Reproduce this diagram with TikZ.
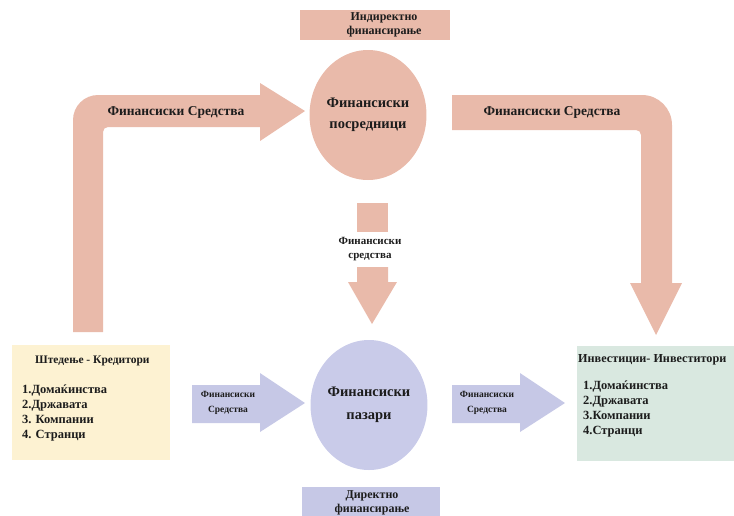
\documentclass[tikz,border=0pt]{standalone}
\usepackage{fontspec}
\setmainfont{Liberation Serif}
\usetikzlibrary{shapes.geometric}
\definecolor{salmon}{HTML}{E9BAAA}
\definecolor{lav}{HTML}{C6C8E6}
\definecolor{lavell}{HTML}{C9CBE9}
\definecolor{creamy}{HTML}{FDF2D2}
\definecolor{mint}{HTML}{D9E8E0}
\definecolor{ink}{HTML}{1C1C1C}
\tikzset{
  lbl/.style={text=ink,font=\bfseries\fontsize{#1}{#1}\selectfont,inner sep=0pt},
  lbl/.default=12,
  twoline/.style n args={2}{text=ink,align=center,inner sep=0pt,font=\bfseries\fontsize{#1}{#2}\selectfont},
  ell/.style={ellipse,inner sep=0pt,minimum width=110pt,minimum height=130pt},
  listtext/.style={text=ink,align=left,inner sep=0pt,anchor=north west,font=\bfseries\fontsize{12.5}{15}\selectfont},
}
\begin{document}
\begin{tikzpicture}[x=1pt,y=-1pt]
\useasboundingbox (0,0) rectangle (734,515);
% top label box
\node[fill=salmon,minimum width=150pt,minimum height=30pt,inner sep=0pt] (indbox) at (375,25) {};
\node[twoline={12}{14}] (indtxt) at (384,25) {Индиректно\\финансирање};
% bottom label box
\node[fill=lav,minimum width=138pt,minimum height=34pt,inner sep=0pt,anchor=north] (dirbox) at (371,487) {};
\node[twoline={12}{14},anchor=north] (dirtxt) at (372,490) {Директно\\финансирање};
% ellipses
\node[ell,fill=salmon,twoline={14.5}{21}] (posr) at (368,115) {Финансиски\\посредници};
\node[ell,fill=lavell,twoline={14.5}{23}] (paz) at (369,405) {Финансиски\\пазари};
% boxes
\node[fill=creamy,minimum width=158pt,minimum height=115pt,inner sep=0pt,anchor=north west] (lbox) at (12,345) {};
\node[fill=mint,minimum width=160pt,minimum height=115pt,inner sep=0pt,anchor=north west] (rbox) at (577,346) {};
\node[lbl=11.5,anchor=west] (ltitle) at (35,361) {Штедење - Кредитори};
\node[listtext] (llist) at (22,385) {1.Домаќинства\\2.Државата\\3. Компании\\4. Странци};
\node[lbl=12.2,anchor=west] (rtitle) at (578,360) {Инвестиции- Инвеститори};
\node[listtext] (rlist) at (583,381) {1.Домаќинства\\2.Државата\\3.Компании\\4.Странци};
% left bent arrow
\fill[salmon] (73,332) -- (73,120) arc[start angle=180,end angle=270,radius=25] -- (260,95) -- (260,83)
  -- (305,111) -- (260,141) -- (260,127) -- (108,127) arc[start angle=270,end angle=180,radius=5]
  -- (103,332) -- cycle;
\node[lbl=13.5] (lfs) at (176,112) {Финансиски Средства};
% right bent arrow
\fill[salmon] (452,95) -- (642,95) arc[start angle=270,end angle=360,radius=30] -- (672,283) -- (682,283)
  -- (656,335) -- (630,283) -- (641,283) -- (641,135) arc[start angle=0,end angle=-90,radius=5]
  -- (452,130) -- cycle;
\node[lbl=13.5] (rfs) at (552,112) {Финансиски Средства};
% middle down arrow
\fill[salmon] (357,203) rectangle (388,232);
\fill[salmon] (357,267) -- (388,267) -- (388,282) -- (397,282) -- (372,324) -- (348,282) -- (357,282) -- cycle;
\node[twoline={11}{14}] (mfs) at (370,249) {Финансиски\\средства};
% blue arrows
\fill[lav] (192,385) -- (260,385) -- (260,373) -- (305,403) -- (260,432) -- (260,423) -- (192,423) -- cycle;
\node[twoline={9.5}{15}] (bl) at (228,403) {Финансиски\\Средства};
\fill[lav] (452,385) -- (520,385) -- (520,373) -- (565,403) -- (520,432) -- (520,423) -- (452,423) -- cycle;
\node[twoline={9.5}{15}] (br) at (487,403) {Финансиски\\Средства};
\end{tikzpicture}
\end{document}
